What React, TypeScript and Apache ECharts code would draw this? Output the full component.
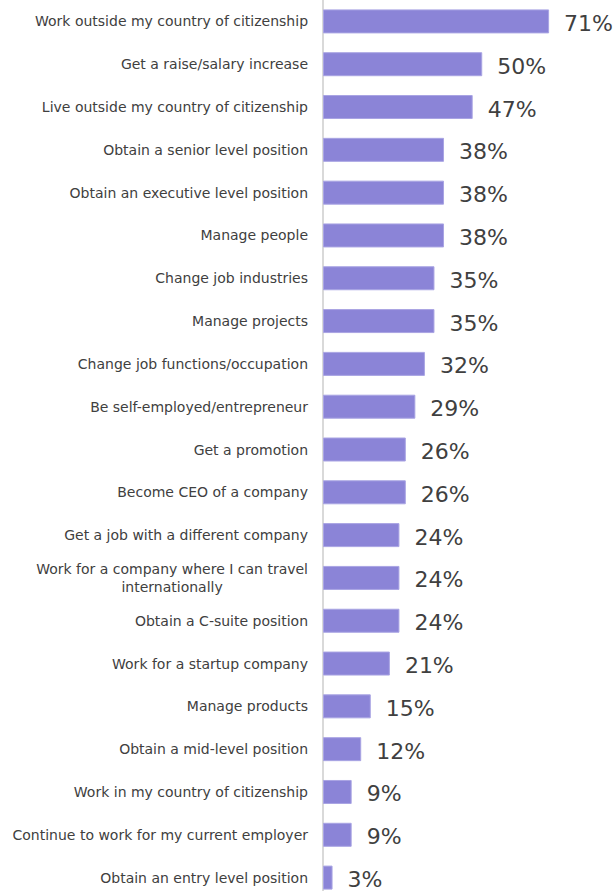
import React, { useEffect, useRef } from "react";
import * as echarts from "echarts";

const categories = [
  "Work outside my country of citizenship",
  "Get a raise/salary increase",
  "Live outside my country of citizenship",
  "Obtain a senior level position",
  "Obtain an executive level position",
  "Manage people",
  "Change job industries",
  "Manage projects",
  "Change job functions/occupation",
  "Be self-employed/entrepreneur",
  "Get a promotion",
  "Become CEO of a company",
  "Get a job with a different company",
  "Work for a company where I can travel\ninternationally",
  "Obtain a C-suite position",
  "Work for a startup company",
  "Manage products",
  "Obtain a mid-level position",
  "Work in my country of citizenship",
  "Continue to work for my current employer",
  "Obtain an entry level position",
];

const values = [71, 50, 47, 38, 38, 38, 35, 35, 32, 29, 26, 26, 24, 24, 24, 21, 15, 12, 9, 9, 3];

export default function App() {
  const ref = useRef<HTMLDivElement>(null);
  useEffect(() => {
    if (!ref.current) return;
    const chart = echarts.init(ref.current, undefined, { renderer: "svg" });
    chart.setOption({
      animation: false,
      backgroundColor: "#ffffff",
      grid: { left: 323, right: 0, top: 0, bottom: 0, containLabel: false },
      xAxis: {
        type: "value",
        min: 0,
        max: 92,
        show: false,
      },
      yAxis: {
        type: "category",
        inverse: true,
        data: categories,
        axisLine: { show: true, lineStyle: { color: "#d9d9d9", width: 2 } },
        axisTick: { show: false },
        axisLabel: {
          margin: 15,
          color: "#404040",
          fontFamily: "DejaVu Sans",
          fontSize: 14,
          lineHeight: 18,
          formatter: (v: string) =>
            v
              .split("\n")
              .map((l) => `{c|${l}}`)
              .join("\n"),
          rich: {
            c: {
              align: "center",
              color: "#404040",
              fontFamily: "DejaVu Sans",
              fontSize: 14,
              lineHeight: 18,
            },
          },
        },
      },
      series: [
        {
          type: "bar",
          data: values,
          barWidth: 24,
          itemStyle: { color: "#8b84d7", borderColor: "#a9a4e3", borderWidth: 1 },
          label: {
            show: true,
            position: "right",
            distance: 15,
            formatter: "{c}%",
            color: "#404040",
            fontFamily: "DejaVu Sans",
            fontSize: 22,
            offset: [0, 2],
          },
        },
      ],
    });
    return () => chart.dispose();
  }, []);
  return (
    <div style={{ width: 616, height: 891, position: "absolute", left: 0, top: 0, overflow: "hidden" }}>
      <div ref={ref} style={{ width: 616, height: 899 }} />
    </div>
  );
}
